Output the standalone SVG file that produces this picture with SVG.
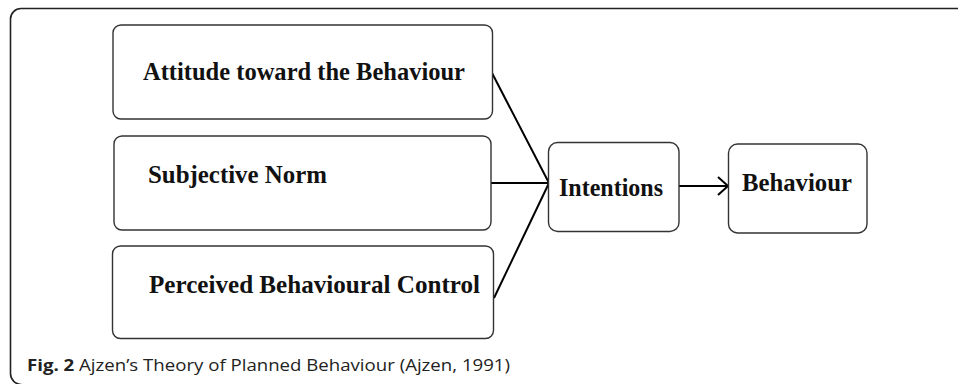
<svg xmlns="http://www.w3.org/2000/svg" width="958" height="384" viewBox="0 0 958 384">
<style>
.box{fill:#fff;stroke:#333;stroke-width:1.4}
.lbl{font-family:"Liberation Serif","Times New Roman",serif;font-weight:bold;font-size:24.5px;fill:#111}
.conn{stroke:#000;stroke-width:2;fill:none}
.cap{font-family:"Open Sans","Noto Sans","Liberation Sans",sans-serif;font-size:16.5px;fill:#222}
</style>
<defs>
<marker id="arrow" markerWidth="14" markerHeight="22" refX="11" refY="11" orient="auto" markerUnits="userSpaceOnUse">
<path d="M1,2 L11,11 L1,20" fill="none" stroke="#000" stroke-width="2"/>
</marker>
</defs>
<rect width="958" height="384" fill="#fff"/>
<path d="M958,8.5 H21 A10.5,10.5 0 0 0 10.5,19 V373 A11,11 0 0 0 21.5,384.5" fill="none" stroke="#222" stroke-width="1.6"/>
<g id="connectors">
<line class="conn" x1="492" y1="73" x2="549" y2="183"/>
<line class="conn" x1="491" y1="183" x2="549" y2="183"/>
<line class="conn" x1="494" y1="298" x2="549" y2="183"/>
<line class="conn" x1="679" y1="186" x2="728" y2="186" marker-end="url(#arrow)"/>
</g>
<g id="attitude">
<rect class="box" x="113" y="25" width="379.5" height="94" rx="8"/>
<text class="lbl" x="143" y="80" textLength="322" lengthAdjust="spacingAndGlyphs">Attitude toward the Behaviour</text>
</g>
<g id="subjective-norm">
<rect class="box" x="114" y="136" width="377" height="94" rx="8"/>
<text class="lbl" x="148" y="183" textLength="179" lengthAdjust="spacingAndGlyphs">Subjective Norm</text>
</g>
<g id="perceived-control">
<rect class="box" x="112.5" y="246" width="381" height="92.5" rx="8"/>
<text class="lbl" x="149" y="293" textLength="331" lengthAdjust="spacingAndGlyphs">Perceived Behavioural Control</text>
</g>
<g id="intentions">
<rect class="box" x="548.5" y="142.5" width="130.5" height="89" rx="9"/>
<text class="lbl" x="559" y="196" textLength="104" lengthAdjust="spacingAndGlyphs">Intentions</text>
</g>
<g id="behaviour">
<rect class="box" x="728.5" y="144" width="138.5" height="89" rx="9"/>
<text class="lbl" x="742" y="191" textLength="110" lengthAdjust="spacingAndGlyphs">Behaviour</text>
</g>
<text class="cap" x="27" y="370.5" textLength="483" lengthAdjust="spacingAndGlyphs"><tspan font-weight="bold">Fig. 2</tspan> Ajzen’s Theory of Planned Behaviour (Ajzen, 1991)</text>
</svg>
